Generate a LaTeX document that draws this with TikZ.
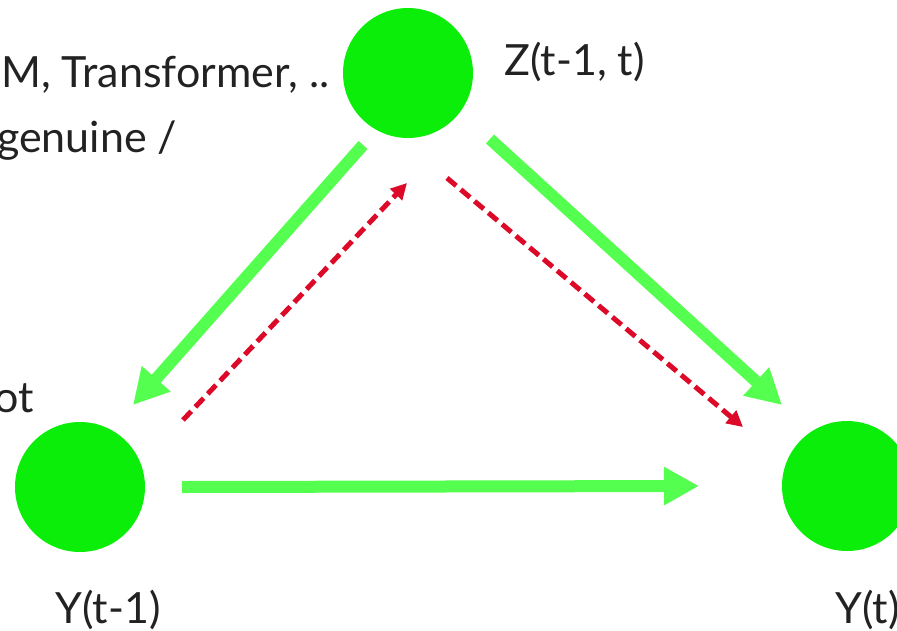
\documentclass[tikz,border=0pt]{standalone}
\usepackage{fontspec}
\setmainfont{Lato}
\usetikzlibrary{arrows.meta, calc}

\definecolor{nodegreen}{HTML}{0AEE0A}
\definecolor{flowgreen}{HTML}{55FF4F}
\definecolor{backred}{HTML}{DC0A28}
\definecolor{inkgray}{HTML}{222222}

\begin{document}
\begin{tikzpicture}[
    x=1pt, y=-1pt,
    state/.style={circle, fill=nodegreen, minimum size=130pt, inner sep=0pt},
    label/.style={inkgray, inner sep=0pt, anchor=base west, font=\fontsize{43}{52}\selectfont},
    flow/.style={flowgreen, line width=12pt, -{Triangle[length=35pt, width=36pt]}},
    back/.style={backred, line width=5pt, dash pattern=on 12pt off 6pt,
                 -{Triangle[length=16pt, width=16pt]}},
]

% =============================================================================
% Frame: the picture is a cut-out, so clip to it
% =============================================================================
\useasboundingbox (0,0) rectangle (897,630);
\clip (0,0) rectangle (897,630);

% --- States ---
\node[state] (z)     at (408, 73)  {};
\node[state] (yprev) at (80, 487)  {};
\node[state] (ycur)  at (847, 486) {};

% --- Labels ---
\node[label] (zlab)     at (504, 75)  {Z(t-1, t)};
\node[label] (yprevlab) at (55, 623)  {Y(t-1)};
\node[label] (ycurlab)  at (835, 623) {Y(t)};

% --- Side notes (cut at the left edge) ---
\node[label] (note1) at (1, 87)   {M, Transformer, ..};
\node[label] (note2) at (-3, 152) {genuine /};
\node[label] (note3) at (-6, 412) {ot};

% =============================================================================
% Forward (green) and backward (red dashed) links
% =============================================================================
\coordinate (zdl)  at ($(z)+(-45, 72)$);
\coordinate (zdr)  at ($(z)+(82, 66)$);
\coordinate (zin)  at ($(z)+(-1, 110)$);
\coordinate (zout) at ($(z)+(39, 105)$);
\coordinate (pin)  at ($(yprev)+(53, -82)$);
\coordinate (pout) at ($(yprev)+(103, -67)$);
\coordinate (prt)  at ($(yprev)+(102, 0)$);
\coordinate (cin)  at ($(ycur)+(-65, -81)$);
\coordinate (cred) at ($(ycur)+(-104, -59)$);
\coordinate (clt)  at ($(ycur)+(-148, 0)$);

\draw[flow] (zdl) -- (pin);
\draw[flow] (zdr) -- (cin);
\draw[flow] (prt) -- (clt);

\draw[back] (pout) -- (zin);
\draw[back] (zout) -- (cred);

\end{tikzpicture}
\end{document}
